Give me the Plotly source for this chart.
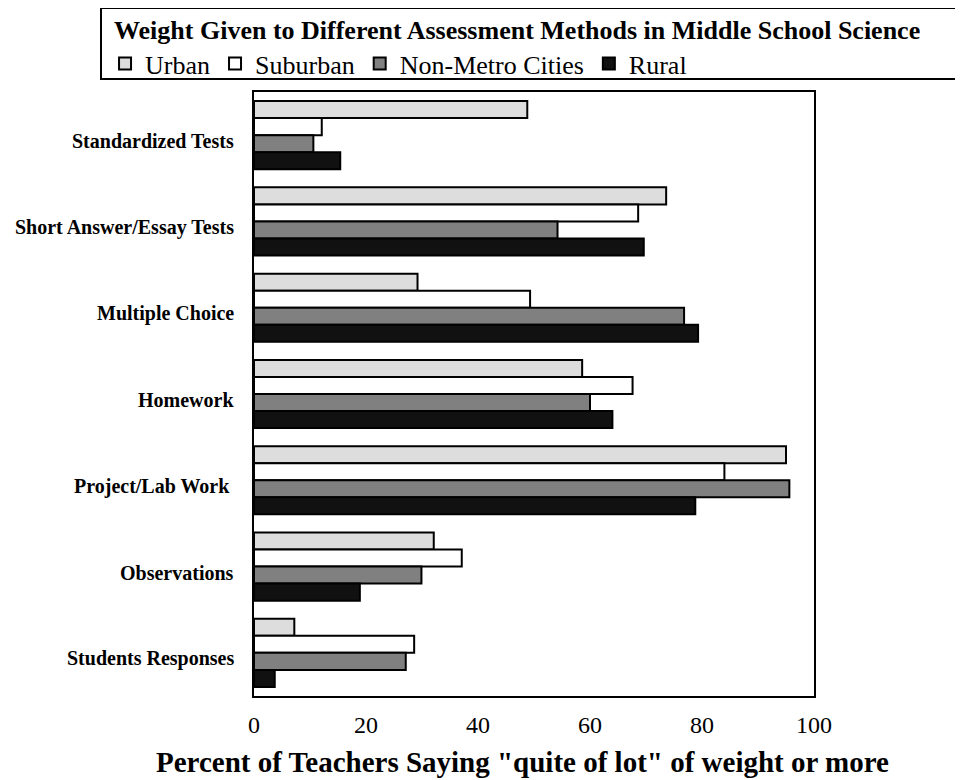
import plotly.graph_objects as go

# Categories (top to bottom) and percent values
methods = ['Standardized Tests', 'Short Answer/Essay Tests', 'Multiple Choice',
           'Homework', 'Project/Lab Work ', 'Observations', 'Students Responses']
urban = [48.8, 73.6, 29.2, 58.6, 95.0, 32.1, 7.2]
suburban = [12.1, 68.6, 49.3, 67.6, 84.0, 37.1, 28.6]
non_metro = [10.6, 54.2, 76.8, 60.0, 95.6, 29.9, 27.1]
rural = [15.4, 69.6, 79.3, 64.0, 78.8, 18.9, 3.7]
x_ticks = [0, 20, 40, 60, 80, 100]

series = [
    ('Urban', urban, '#dddddd'),
    ('Suburban', suburban, '#ffffff'),
    ('Non-Metro Cities', non_metro, '#808080'),
    ('Rural', rural, '#111111'),
]

SERIF = 'Liberation Serif, Times New Roman, serif'

fig = go.Figure()
for name, vals, color in series:
    fig.add_trace(go.Bar(
        y=methods, x=vals, name=name, orientation='h',
        marker=dict(color=color, line=dict(color='black', width=2)),
    ))

fig.update_layout(
    width=963, height=780,
    barmode='group', bargap=0.21, bargroupgap=0,
    plot_bgcolor='white', paper_bgcolor='white',
    font=dict(family=SERIF, color='black'),
    margin=dict(l=246, r=157, t=84, b=92, autoexpand=False),
    legend=dict(
        orientation='h', x=-0.266, y=1.086, xanchor='left', yanchor='top',
        font=dict(family=SERIF, size=26), borderwidth=0,
        itemwidth=30, tracegroupgap=0, bgcolor='rgba(0,0,0,0)',
    ),
    showlegend=True,
)

# box round the title and legend (runs off the right edge like the original)
fig.add_shape(type='rect', xref='paper', yref='paper',
              x0=-0.2732, x1=1.2714, y0=1.0215, y1=1.1391,
              line=dict(color='black', width=2))
fig.add_annotation(
    text='<b>Weight Given to Different Assessment Methods in Middle School Science</b>',
    xref='paper', yref='paper', x=0.4688, y=1.1026, showarrow=False,
    xanchor='center', yanchor='middle', font=dict(family=SERIF, size=26),
)

# category labels, sitting a little below the middle of each group
for m in methods:
    fig.add_annotation(
        text='<b>' + m + '</b>', xref='paper', yref='y', x=0, y=m,
        xanchor='right', yanchor='middle', xshift=-18, yshift=-6,
        showarrow=False, font=dict(family=SERIF, size=20),
    )

# axis title
fig.add_annotation(
    text='<b>Percent of Teachers Saying "quite of lot" of weight or more</b>',
    xref='paper', yref='paper', x=0.480, y=-0.1093, showarrow=False,
    xanchor='center', yanchor='middle', font=dict(family=SERIF, size=29),
)

fig.update_xaxes(
    range=[0, 100], tickvals=x_ticks, showgrid=False, zeroline=False,
    showline=True, linecolor='black', linewidth=2, mirror=True,
    tickfont=dict(family=SERIF, size=24), ticks='', ticklabelstandoff=6,
)
fig.update_yaxes(
    autorange='reversed', showgrid=False, zeroline=False,
    showline=True, linecolor='black', linewidth=2, mirror=True,
    showticklabels=False, ticks='',
)

fig.write_html("out.html")
